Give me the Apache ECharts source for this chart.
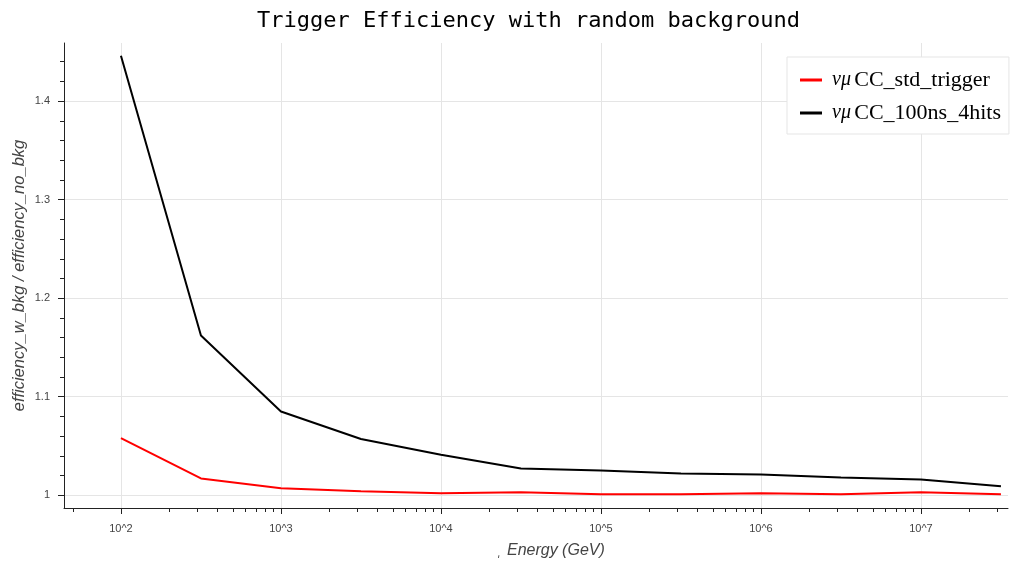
<!DOCTYPE html>
<html>
<head>
<meta charset="utf-8">
<script src="https://cdn.jsdelivr.net/npm/echarts@6/dist/echarts.min.js"></script>
<style>
html,body{margin:0;padding:0;background:#fff;}
#chart{width:1010px;height:563px;}
</style>
</head>
<body>
<div id="chart"></div>
<script>
// ---- data ----
const energy = [100, 316.2, 1000, 3162, 10000, 31620, 100000, 316200, 1000000, 3162000, 10000000, 31620000];
const stdTrigger = [1.058, 1.017, 1.007, 1.004, 1.002, 1.003, 1.001, 1.001, 1.002, 1.001, 1.003, 1.001];
const ns100Hits4 = [1.446, 1.162, 1.085, 1.057, 1.041, 1.027, 1.025, 1.022, 1.021, 1.018, 1.016, 1.009];
const seriesNames = ['std_trigger', '100ns_4hits'];
const xMajorTicks = [1e2, 1e3, 1e4, 1e5, 1e6, 1e7];
const yMajorTicks = [1, 1.1, 1.2, 1.3, 1.4];
const yMinorTicks = [1.02, 1.04, 1.06, 1.08, 1.12, 1.14, 1.16, 1.18, 1.22, 1.24, 1.26, 1.28, 1.32, 1.34, 1.36, 1.38, 1.42, 1.44];
const xFirstDecadeMultipliers = [5];
const xMinorMultipliers = [2, 3, 4, 5, 6, 7, 8, 9];
const xMinDecade = 1, xMaxDecade = 7;

const xMin = 44.06, xMax = 35000000;
const yMin = 0.987, yMax = 1.459;

const xMinorTicks = [];
for (let d = xMinDecade; d <= xMaxDecade; d++) {
  (d === xMinDecade ? xFirstDecadeMultipliers : xMinorMultipliers).forEach(m => {
    const v = m * Math.pow(10, d);
    if (v > xMin && v < xMax) xMinorTicks.push(v);
  });
}

const axisColor = '#222';
const labelColor = '#444';
const gridColor = '#e5e5e5';

const chart = echarts.init(document.getElementById('chart'), null, {renderer: 'canvas'});
chart.setOption({
  backgroundColor: '#fff',
  animation: false,
  title: {
    text: 'Trigger Efficiency with random background',
    left: 252, top: 5,
    textStyle: {fontFamily: 'DejaVu Sans Mono', fontSize: 22, fontWeight: 'normal', color: '#000'}
  },
  legend: {
    orient: 'vertical',
    left: 787, top: 57,
    padding: [12, 8, 10, 13],
    itemGap: 11,
    itemWidth: 22, itemHeight: 3,
    icon: 'rect',
    backgroundColor: '#fff',
    borderColor: '#e5e5e5', borderWidth: 1, borderRadius: 0,
    data: seriesNames,
    formatter: name => '{nu|νμ} {t|CC_' + name + '}',
    textStyle: {
      padding: [0, 0, 0, 5],
      rich: {
        nu: {fontFamily: 'Liberation Serif', fontStyle: 'italic', fontSize: 20, color: '#000'},
        t: {fontFamily: 'Liberation Serif', fontSize: 22, color: '#000'}
      }
    }
  },
  grid: {left: 64, right: 2, top: 43, bottom: 55, containLabel: false, outerBoundsMode: 'none'},
  xAxis: [{
    type: 'log', logBase: 10, min: xMin, max: xMax,
    name: 'ˌ Energy (GeV)', nameLocation: 'middle', nameGap: 35, nameMoveOverlap: false,
    nameTextStyle: {fontFamily: 'Liberation Sans', fontStyle: 'italic', fontSize: 16, color: labelColor, padding: [0, 0, 0, 30]},
    axisLine: {show: true, lineStyle: {color: axisColor, width: 1}},
    axisTick: {show: true, inside: false, length: 6, customValues: xMajorTicks, lineStyle: {color: axisColor}},
    axisLabel: {show: true, customValues: xMajorTicks, margin: 15, fontFamily: 'Liberation Sans', fontSize: 11, color: labelColor,
      formatter: v => '10^' + Math.round(Math.log10(v))},
    splitLine: {show: true, lineStyle: {color: gridColor, width: 1}},
    minorTick: {show: false}
  }, {
    type: 'log', logBase: 10, min: xMin, max: xMax, position: 'bottom',
    axisLine: {show: false},
    axisTick: {show: true, inside: false, length: 4, customValues: xMinorTicks, lineStyle: {color: axisColor}},
    axisLabel: {show: false},
    splitLine: {show: false}
  }],
  yAxis: [{
    type: 'value', min: yMin, max: yMax,
    name: 'efficiency_w_bkg / efficiency_no_bkg', nameLocation: 'middle', nameGap: 36, nameRotate: 90, nameMoveOverlap: false,
    nameTextStyle: {fontFamily: 'Liberation Sans', fontStyle: 'italic', fontSize: 16.5, color: labelColor},
    axisLine: {show: true, lineStyle: {color: axisColor, width: 1}},
    axisTick: {show: true, inside: false, length: 6, customValues: yMajorTicks, lineStyle: {color: axisColor}},
    axisLabel: {show: true, customValues: yMajorTicks, margin: 14, fontFamily: 'Liberation Sans', fontSize: 11, color: labelColor,
      formatter: v => String(Math.round(v * 10) / 10)},
    splitLine: {show: true, lineStyle: {color: gridColor, width: 1}}
  }, {
    type: 'value', min: yMin, max: yMax, position: 'left',
    axisLine: {show: false},
    axisTick: {show: true, inside: false, length: 4, customValues: yMinorTicks, lineStyle: {color: axisColor}},
    axisLabel: {show: false},
    splitLine: {show: false}
  }],
  series: [{
    name: seriesNames[0], type: 'line', xAxisIndex: 0, yAxisIndex: 0,
    data: energy.map((e, i) => [e, stdTrigger[i]]),
    symbol: 'none', lineStyle: {color: '#ff0000', width: 2}, itemStyle: {color: '#ff0000'}
  }, {
    name: seriesNames[1], type: 'line', xAxisIndex: 0, yAxisIndex: 0,
    data: energy.map((e, i) => [e, ns100Hits4[i]]),
    symbol: 'none', lineStyle: {color: '#000000', width: 2}, itemStyle: {color: '#000000'}
  }]
});
</script>
</body>
</html>
